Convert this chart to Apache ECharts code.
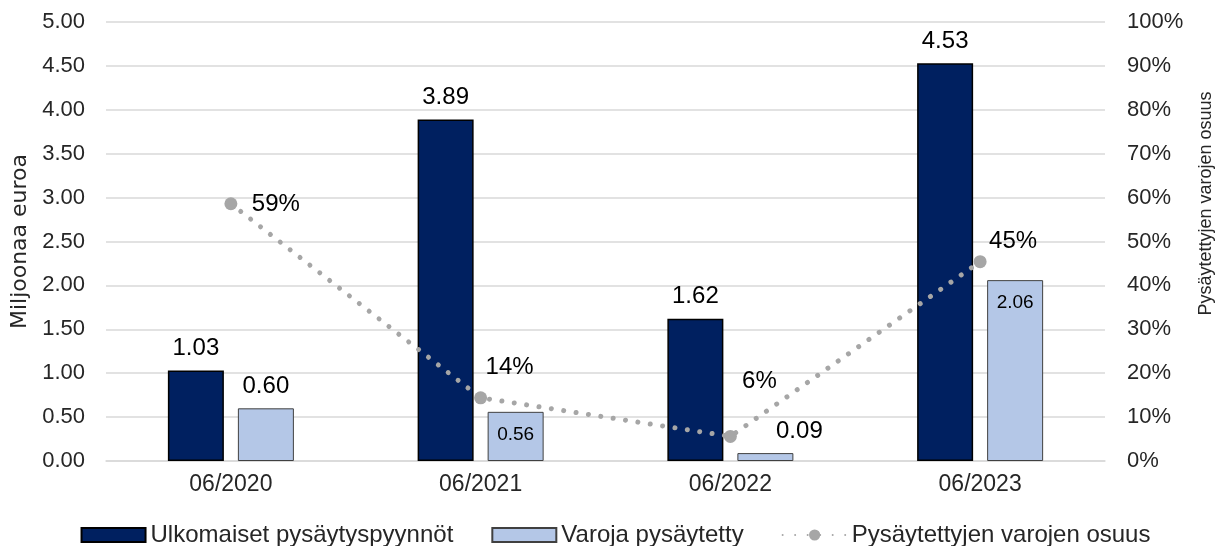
<!DOCTYPE html>
<html>
<head>
<meta charset="utf-8">
<script src="https://cdn.jsdelivr.net/npm/echarts@6/dist/echarts.min.js"></script>
<style>
html,body{margin:0;padding:0;background:#fff;}
#chart{width:1231px;height:546px;}
</style>
</head>
<body>
<div id="chart"></div>
<script>
// ---- data ----
const categories = ['06/2020', '06/2021', '06/2022', '06/2023'];
const foreignRequests = [1.03, 3.89, 1.62, 4.53];
const frozenFunds = [0.60, 0.56, 0.09, 2.06];
const frozenShare = [58.6, 14.4, 5.6, 45.4];
const seriesNames = ['Ulkomaiset pysäytyspyynnöt', 'Varoja pysäytetty', 'Pysäytettyjen varojen osuus'];
const leftAxisName = 'Miljoonaa euroa';
const rightAxisName = 'Pysäytettyjen varojen osuus';

// ---- label layout (style only) ----
const frozenLabelPos = ['top', 'insideTop', 'top', 'insideTop'];
const frozenLabelOffset = [[0, 0], [0, 0], [34, 0], [0, 0]];
const shareLabelOffset = [[45, 1], [29, -30], [29, -55], [33, -20]];

const FONT = '"Liberation Sans", Arial, sans-serif';
const TXT = '#262626';

const chart = echarts.init(document.getElementById('chart'), null, {renderer: 'canvas'});

const option = {
  animation: false,
  backgroundColor: '#fff',
  textStyle: {fontFamily: FONT},
  grid: {left: 106, right: 126, top: 22, bottom: 85, containLabel: false},
  legend: {
    data: [
      {name: seriesNames[0], icon: 'rect'},
      {name: seriesNames[1], icon: 'rect'},
      {name: seriesNames[2]}
    ],
    left: 'center',
    top: 518,
    itemWidth: 64,
    itemHeight: 14,
    itemGap: 38,
    textStyle: {fontFamily: FONT, fontSize: 24, color: TXT}
  },
  xAxis: {
    type: 'category',
    data: categories,
    axisLine: {show: true, lineStyle: {color: '#d9d9d9', width: 1.5}},
    axisTick: {show: false},
    axisLabel: {fontFamily: FONT, fontSize: 23, color: TXT, margin: 12}
  },
  yAxis: [
    {
      type: 'value', min: 0, max: 5, interval: 0.5,
      name: leftAxisName, nameLocation: 'middle', nameRotate: 90, nameGap: 75,
      nameTextStyle: {fontFamily: '"DejaVu Sans", sans-serif', fontSize: 22, color: TXT},
      axisLine: {show: false}, axisTick: {show: false},
      axisLabel: {fontFamily: FONT, fontSize: 22, color: TXT, margin: 21, formatter: v => v.toFixed(2)},
      splitLine: {show: true, lineStyle: {color: '#d9d9d9', width: 1.5}}
    },
    {
      type: 'value', min: 0, max: 100, interval: 10, position: 'right',
      name: rightAxisName, nameLocation: 'middle', nameRotate: 90, nameGap: 92,
      nameTextStyle: {fontFamily: FONT, fontSize: 18, color: TXT, padding: [0, 0, 0, 76]},
      axisLine: {show: false}, axisTick: {show: false},
      axisLabel: {fontFamily: FONT, fontSize: 22, color: TXT, margin: 22, formatter: '{value}%'},
      splitLine: {show: false}
    }
  ],
  series: [
    {
      name: seriesNames[0],
      type: 'bar',
      data: foreignRequests,
      barWidth: 56,
      barGap: '25%',
      itemStyle: {color: '#002060', borderColor: '#000', borderWidth: 1.5},
      label: {show: true, position: 'top', distance: 10, fontFamily: FONT, fontSize: 24, color: '#000',
        formatter: p => p.value.toFixed(2)}
    },
    {
      name: seriesNames[1],
      type: 'bar',
      data: frozenFunds.map((v, i) => ({
        value: v,
        label: frozenLabelPos[i] === 'top'
          ? {position: 'top', distance: 10, fontSize: 24, offset: frozenLabelOffset[i]}
          : {position: 'insideTop', distance: 13, fontSize: 19, offset: frozenLabelOffset[i]}
      })),
      barWidth: 56,
      itemStyle: {color: '#b4c7e7', borderColor: '#404040', borderWidth: 1},
      label: {show: true, fontFamily: FONT, color: '#000', formatter: p => p.value.toFixed(2)}
    },
    {
      name: seriesNames[2],
      type: 'line',
      yAxisIndex: 1,
      z: 5,
      data: frozenShare.map((v, i) => ({
        value: v,
        label: {offset: shareLabelOffset[i]}
      })),
      symbol: 'circle',
      symbolSize: 13,
      itemStyle: {color: '#a6a6a6'},
      lineStyle: {color: '#a6a6a6', width: 5, type: [0.01, 12.5], cap: 'round'},
      label: {show: true, position: 'inside', fontFamily: FONT, fontSize: 24, color: '#000',
        formatter: p => Math.round(p.value) + '%'}
    }
  ]
};
chart.setOption(option);
</script>
</body>
</html>
